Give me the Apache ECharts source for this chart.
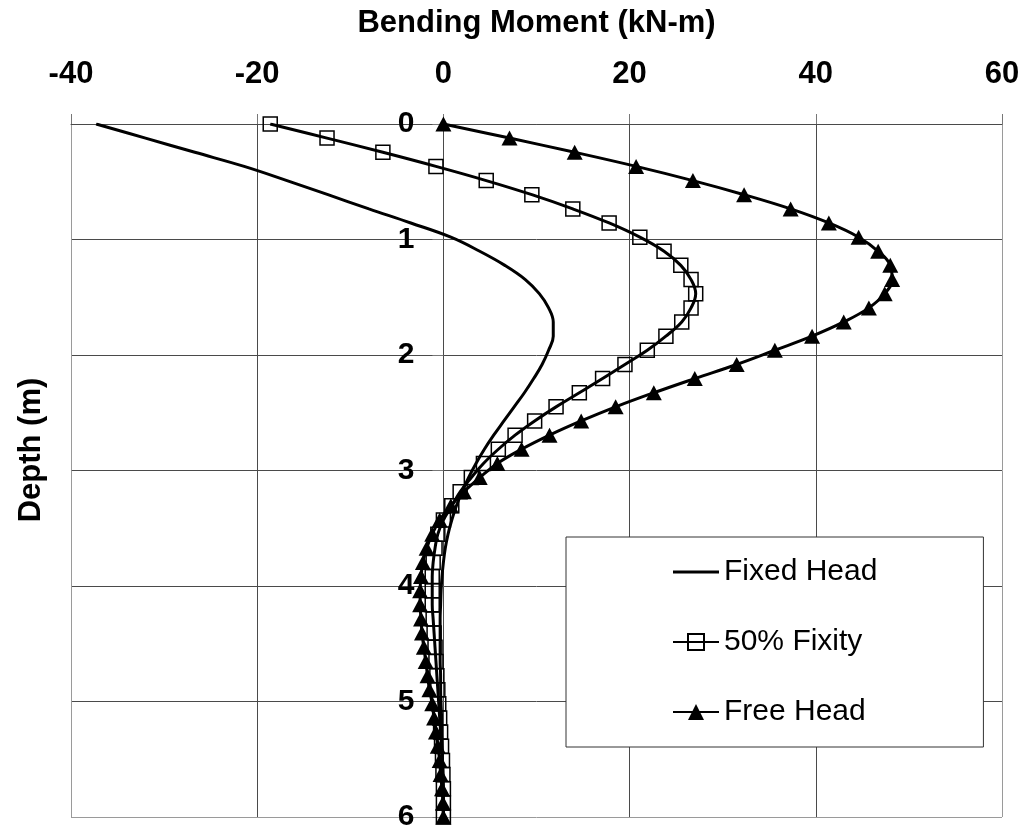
<!DOCTYPE html>
<html>
<head>
<meta charset="utf-8">
<title>Bending Moment vs Depth</title>
<script src="https://cdn.jsdelivr.net/npm/echarts@6/dist/echarts.min.js"></script>
<style>
  html, body { margin: 0; padding: 0; background: #fff; }
  #chart { width: 1023px; height: 832px; }
</style>
</head>
<body>
<div id="chart"></div>
<script>
// Depth below pile head (m), shared by all three profiles
const depths = [
  0.000, 0.122, 0.245, 0.367, 0.490, 0.612, 0.735, 0.857, 0.980, 1.102,
  1.224, 1.347, 1.469, 1.592, 1.714, 1.837, 1.959, 2.082, 2.204, 2.327,
  2.449, 2.571, 2.694, 2.816, 2.939, 3.061, 3.184, 3.306, 3.429, 3.551,
  3.673, 3.796, 3.918, 4.041, 4.163, 4.286, 4.408, 4.531, 4.653, 4.776,
  4.898, 5.020, 5.143, 5.265, 5.388, 5.510, 5.633, 5.755, 5.878, 6.000
];

// Bending moment (kN-m) for each head condition
const fixedHead = [
  -37.3, -32.0, -26.7, -21.4, -16.8, -12.4, -8.0, -3.5, 0.8, 3.9,
  6.6, 8.8, 10.3, 11.3, 11.8, 11.8, 11.3, 10.6, 9.7, 8.7,
  7.6, 6.5, 5.4, 4.4, 3.5, 2.7, 2.0, 1.4, 0.9, 0.5,
  0.2, 0.0, -0.15, -0.25, -0.3, -0.35, -0.35, -0.35, -0.35, -0.3,
  -0.3, -0.25, -0.2, -0.2, -0.15, -0.1, -0.05, -0.05, 0.0, 0.0
];
const fixity50 = [
  -18.6, -12.5, -6.5, -0.8, 4.6, 9.5, 13.9, 17.8, 21.1, 23.7,
  25.5, 26.6, 27.1, 26.6, 25.6, 23.9, 21.9, 19.5, 17.1, 14.6,
  12.1, 9.8, 7.7, 5.9, 4.3, 3.0, 1.8, 0.9, 0.0, -0.6,
  -0.9, -1.1, -1.2, -1.2, -1.2, -1.1, -1.0, -0.9, -0.8, -0.7,
  -0.6, -0.5, -0.4, -0.3, -0.2, -0.1, -0.05, 0.0, 0.0, 0.0
];
const freeHead = [
  0.0, 7.1, 14.1, 20.7, 26.8, 32.3, 37.3, 41.4, 44.6, 46.7,
  48.0, 48.2, 47.4, 45.7, 43.0, 39.6, 35.6, 31.5, 27.0, 22.6,
  18.5, 14.8, 11.4, 8.4, 5.8, 3.9, 2.2, 0.8, -0.4, -1.2,
  -1.8, -2.2, -2.4, -2.5, -2.5, -2.4, -2.3, -2.1, -1.9, -1.7,
  -1.5, -1.2, -1.0, -0.8, -0.6, -0.4, -0.3, -0.15, -0.05, 0.0
];

const seriesNames = ['Fixed Head', '50% Fixity', 'Free Head'];
const xTicks = { min: -40, max: 60, step: 20 };
const yTicks = { min: 0, max: 6, step: 1 };

const FONT = '"Liberation Sans", Arial, sans-serif';

function pairs(values) {
  return values.map((v, i) => [v, depths[i]]);
}

const chart = echarts.init(document.getElementById('chart'), null, { renderer: 'canvas' });

const gridLeft = 71;
const gridWidth = 931;
// depth axis sits on the zero-moment line
const zeroShift = gridWidth * (0 - xTicks.min) / (xTicks.max - xTicks.min);

const edge = '#9a9a9a';
const inner = '#4a4a4a';

chart.setOption({
  animation: false,
  backgroundColor: '#fff',
  grid: { left: gridLeft, width: gridWidth, top: 124, bottom: 9, containLabel: false },
  xAxis: {
    type: 'value',
    position: 'top',
    min: xTicks.min,
    max: xTicks.max,
    interval: xTicks.step,
    name: 'Bending Moment (kN-m)',
    nameLocation: 'middle',
    nameGap: 85,
    nameTextStyle: { fontFamily: FONT, fontWeight: 'bold', fontSize: 31, color: '#000' },
    axisLine: { show: true, onZero: false, lineStyle: { color: inner, width: 1 } },
    axisTick: { show: true, inside: false, length: 10, lineStyle: { color: '#777' } },
    axisLabel: { margin: 34, fontFamily: FONT, fontWeight: 'bold', fontSize: 31, color: '#000' },
    splitLine: {
      show: true,
      lineStyle: { color: [edge, inner, inner, inner, inner, edge], width: 1 }
    }
  },
  yAxis: {
    type: 'value',
    position: 'left',
    offset: -zeroShift,
    inverse: true,
    min: yTicks.min,
    max: yTicks.max,
    interval: yTicks.step,
    axisLine: { show: true, onZero: false, lineStyle: { color: inner, width: 1 } },
    axisTick: { show: true, inside: false, length: 11, lineStyle: { color: '#777' } },
    axisLabel: { margin: 29, fontFamily: FONT, fontWeight: 'bold', fontSize: 30, color: '#000' },
    splitLine: {
      show: true,
      lineStyle: { color: [inner, inner, inner, inner, inner, inner, edge], width: 1 }
    }
  },
  legend: {
    orient: 'vertical',
    left: 566,
    top: 537,
    padding: [20, 106, 20, 106],
    itemGap: 40,
    itemWidth: 46,
    itemHeight: 20,
    backgroundColor: '#fff',
    borderColor: '#333',
    borderWidth: 1,
    textStyle: { fontFamily: FONT, fontSize: 30, color: '#000', lineHeight: 30 },
    data: [
      { name: seriesNames[0], icon: 'path://M0 0H46V3H0Z' },
      { name: seriesNames[1] },
      { name: seriesNames[2] }
    ]
  },
  graphic: [{
    type: 'text',
    x: 31,
    y: 450,
    rotation: Math.PI / 2,
    style: {
      text: 'Depth (m)',
      font: 'bold 31px ' + FONT,
      fill: '#000',
      align: 'center',
      verticalAlign: 'middle'
    }
  }],
  series: [
    {
      name: seriesNames[0],
      type: 'line',
      data: pairs(fixedHead),
      smooth: 0.4,
      symbol: 'none',
      itemStyle: { color: '#000' },
      lineStyle: { color: '#000', width: 3 },
      z: 3
    },
    {
      name: seriesNames[1],
      type: 'line',
      data: pairs(fixity50),
      smooth: 0.4,
      symbol: 'rect',
      symbolSize: 14,
      showAllSymbol: true,
      // open square markers: the curve shows through them
      itemStyle: { color: 'rgba(255,255,255,0)', borderColor: '#000', borderWidth: 1.5 },
      lineStyle: { color: '#000', width: 3 },
      z: 4
    },
    {
      name: seriesNames[2],
      type: 'line',
      data: pairs(freeHead),
      smooth: 0.4,
      symbol: 'triangle',
      symbolSize: [16, 15],
      showAllSymbol: true,
      itemStyle: { color: '#000' },
      lineStyle: { color: '#000', width: 3 },
      z: 5
    }
  ]
});
</script>
</body>
</html>
